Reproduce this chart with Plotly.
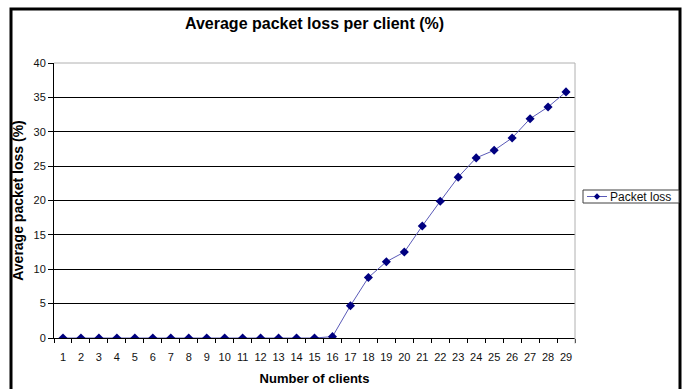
import plotly.graph_objects as go

# Number of clients (category axis) and measured average packet loss in %
clients = ["1", "2", "3", "4", "5", "6", "7", "8", "9", "10",
           "11", "12", "13", "14", "15", "16", "17", "18", "19", "20",
           "21", "22", "23", "24", "25", "26", "27", "28", "29"]
packet_loss = [0.0, 0.0, 0.0, 0.0, 0.0, 0.0, 0.0, 0.0, 0.0, 0.0,
               0.0, 0.0, 0.0, 0.0, 0.0, 0.2, 4.7, 8.8, 11.1, 12.5,
               16.3, 19.9, 23.4, 26.2, 27.3, 29.1, 31.9, 33.6, 35.8]
y_ticks = [0, 5, 10, 15, 20, 25, 30, 35, 40]
series_name = "Packet loss"

W, H = 686, 389
L, R, T, B = 54, 111, 63, 51
pw, ph = W - L - R, H - T - B

LINE_COLOR = "#5a5ab8"
MARKER_COLOR = "#000080"


def px_x(x):
    return (x - L) / pw


def px_y(y):
    return (H - B - y) / ph


font = "Liberation Sans, Arial, sans-serif"

fig = go.Figure()
fig.add_trace(go.Scatter(
    x=clients, y=packet_loss, name=series_name,
    mode="lines+markers",
    line=dict(color=LINE_COLOR, width=1),
    marker=dict(symbol="diamond", size=7, color=MARKER_COLOR,
                line=dict(width=0)),
    showlegend=False,
))

# compact boxed legend to the right of the plot area
lg_x0, lg_x1, lg_y0, lg_y1 = 583, 679, 190, 203
lg_mid = (lg_y0 + lg_y1) / 2
sym_x0, sym_x1 = 587, 607
sym_c = (sym_x0 + sym_x1) / 2
d = 3.2  # half size of the legend diamond, px
diamond = "M {} {} L {} {} L {} {} L {} {} Z".format(
    px_x(sym_c), px_y(lg_mid - d), px_x(sym_c + d), px_y(lg_mid),
    px_x(sym_c), px_y(lg_mid + d), px_x(sym_c - d), px_y(lg_mid))

fig.update_layout(
    width=W, height=H,
    margin=dict(l=L, r=R, t=T, b=B, autoexpand=False),
    paper_bgcolor="white", plot_bgcolor="white",
    font=dict(family=font, size=11, color="#111"),
    title=dict(text="<b>Average packet loss per client (%)</b>",
               x=0.5, xref="paper", xanchor="center",
               y=1 - 23 / H, yref="container", yanchor="middle",
               font=dict(size=16, color="black", family=font)),
    showlegend=False,
    xaxis=dict(type="category", range=[-0.5, 28.5],
               showline=True, linecolor="black", linewidth=1,
               ticks="outside", tickson="boundaries", ticklen=4,
               tickcolor="black", showgrid=False, zeroline=False,
               tickangle=0, ticklabelstandoff=9,
               tickfont=dict(size=11, color="#111"),
               title=dict(text="<b>Number of clients</b>", standoff=11,
                          font=dict(size=13, color="black"))),
    yaxis=dict(range=[0, 40], tickvals=y_ticks,
               showline=True, linecolor="black", linewidth=1,
               ticks="outside", ticklen=5, tickcolor="black",
               showgrid=True, gridcolor="black", gridwidth=1,
               zeroline=False,
               tickfont=dict(size=11, color="#111"),
               title=dict(text="<b>Average packet loss (%)</b>", standoff=6,
                          font=dict(size=14, color="black"))),
    shapes=[
        # light grey frame on the top and right of the plot area
        dict(type="line", xref="paper", yref="paper", x0=0, x1=1, y0=1, y1=1,
             line=dict(color="#b0b0b0", width=1), layer="above"),
        dict(type="line", xref="paper", yref="paper", x0=1, x1=1, y0=-0.02, y1=1,
             line=dict(color="#b0b0b0", width=1), layer="above"),
        # heavy outer border around the chart
        dict(type="rect", xref="paper", yref="paper",
             x0=px_x(11), x1=px_x(680), y0=px_y(400), y1=px_y(9),
             line=dict(color="black", width=3), layer="above"),
        # legend box, line sample and marker
        dict(type="rect", xref="paper", yref="paper",
             x0=px_x(lg_x0), x1=px_x(lg_x1), y0=px_y(lg_y1), y1=px_y(lg_y0),
             line=dict(color="#404040", width=1), fillcolor="white",
             layer="above"),
        dict(type="line", xref="paper", yref="paper",
             x0=px_x(sym_x0), x1=px_x(sym_x1), y0=px_y(lg_mid), y1=px_y(lg_mid),
             line=dict(color=LINE_COLOR, width=1), layer="above"),
        dict(type="path", xref="paper", yref="paper", path=diamond,
             fillcolor=MARKER_COLOR, line=dict(width=0), layer="above"),
    ],
    annotations=[
        dict(text=series_name, xref="paper", yref="paper",
             x=px_x(sym_x1 + 1), y=px_y(lg_mid), xanchor="left",
             yanchor="middle", showarrow=False,
             font=dict(size=12, color="#111", family=font)),
    ],
)

fig.write_html("out.html")
